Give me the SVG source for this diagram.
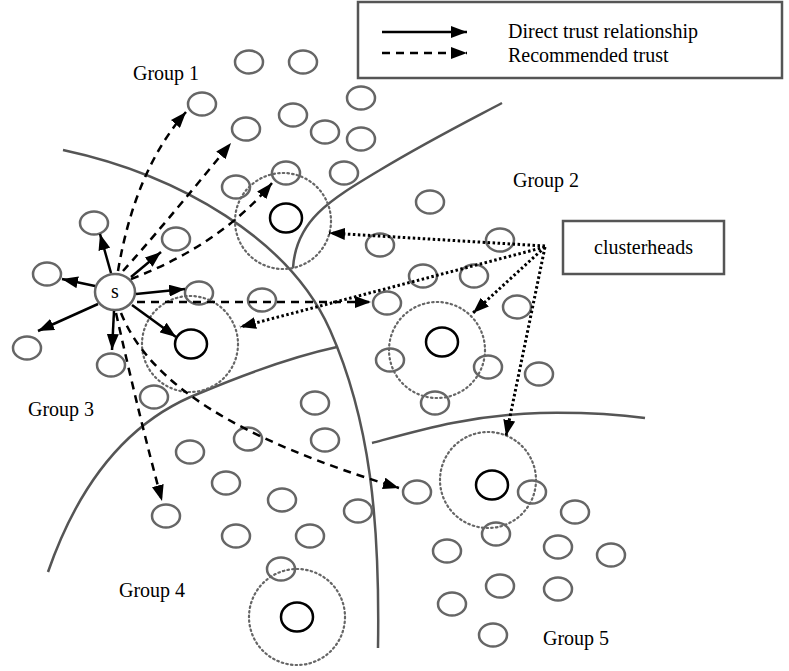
<svg xmlns="http://www.w3.org/2000/svg" width="789" height="671" viewBox="0 0 789 671">
  <defs>
    <marker id="ah" viewBox="0 0 16 12" refX="16" refY="6" markerWidth="16" markerHeight="12" markerUnits="userSpaceOnUse" orient="auto">
      <path d="M0,0L16,6L0,12z" fill="#000"/>
    </marker>
  </defs>
  <style>
    text { font-family: "Liberation Serif", "Times New Roman", serif; font-size: 20px; fill: #000; }
    .n { fill: none; stroke: #666; stroke-width: 2.5; }
    .ch { fill: none; stroke: #000; stroke-width: 2.5; }
    .rng { fill: none; stroke: #666; stroke-width: 2.2; stroke-dasharray: 1.5 3.2; stroke-linecap: round; }
    .bd { fill: none; stroke: #555; stroke-width: 2.5; }
    .direct { fill: none; stroke: #000; stroke-width: 2.5; marker-end: url(#ah); }
    .rec { fill: none; stroke: #000; stroke-width: 2.5; stroke-dasharray: 8 6; marker-end: url(#ah); }
    .ptr { fill: none; stroke: #000; stroke-width: 3; stroke-dasharray: 2.5 2.5; marker-end: url(#ah); }
  </style>

  <rect width="789" height="671" fill="#fff"/>

  <!-- group boundaries -->
  <g id="boundaries">
    <path class="bd" d="M63,150 C180,175 290,240 330,330 C370,420 380,520 378,648"/>
    <path class="bd" d="M293,268 C296,220 330,200 380,170 S470,120 502,103"/>
    <path class="bd" d="M48,572 C80,480 130,420 200,393 C250,372 300,355 337,347"/>
    <path class="bd" d="M372,443 C420,430 470,415 540,413 Q600,412 645,418"/>
  </g>

  <!-- legend -->
  <g id="legend">
    <rect x="358" y="2" width="424" height="76" fill="none" stroke="#555" stroke-width="2.5"/>
    <line class="direct" x1="382" y1="32" x2="467" y2="32"/>
    <line class="rec" x1="382" y1="53" x2="467" y2="53"/>
    <text x="508" y="38">Direct trust relationship</text>
    <text x="508" y="62">Recommended trust</text>
  </g>

  <!-- cluster ranges and clusterheads -->
  <g id="cluster1"><circle class="rng" cx="283" cy="221" r="48"/><ellipse class="ch" cx="286" cy="218" rx="16" ry="14.5"/></g>
  <g id="cluster2"><circle class="rng" cx="437" cy="350" r="48"/><ellipse class="ch" cx="442" cy="342" rx="16" ry="14.5"/></g>
  <g id="cluster3"><circle class="rng" cx="190" cy="344" r="48"/><ellipse class="ch" cx="191" cy="344" rx="16" ry="14.5"/></g>
  <g id="cluster4"><circle class="rng" cx="297" cy="617" r="48"/><ellipse class="ch" cx="297" cy="617" rx="16" ry="14.5"/></g>
  <g id="cluster5"><circle class="rng" cx="488" cy="480" r="48"/><ellipse class="ch" cx="492" cy="485" rx="16" ry="14.5"/></g>

  <!-- ordinary nodes -->
  <g id="g1-nodes">
    <g id="n1"><ellipse class="n" cx="249" cy="62" rx="14" ry="11.5"/></g>
    <g id="n2"><ellipse class="n" cx="303" cy="62" rx="14" ry="11.5"/></g>
    <g id="n3"><ellipse class="n" cx="202" cy="104" rx="14" ry="11.5"/></g>
    <g id="n4"><ellipse class="n" cx="246" cy="129" rx="14" ry="11.5"/></g>
    <g id="n5"><ellipse class="n" cx="293" cy="115" rx="14" ry="11.5"/></g>
    <g id="n6"><ellipse class="n" cx="325" cy="132" rx="14" ry="11.5"/></g>
    <g id="n7"><ellipse class="n" cx="361" cy="98" rx="14" ry="11.5"/></g>
    <g id="n8"><ellipse class="n" cx="361" cy="139" rx="14" ry="11.5"/></g>
    <g id="n9"><ellipse class="n" cx="344" cy="173" rx="14" ry="11.5"/></g>
    <g id="n10"><ellipse class="n" cx="286" cy="173" rx="14" ry="11.5"/></g>
    <g id="n11"><ellipse class="n" cx="236" cy="187" rx="14" ry="11.5"/></g>
  </g>
  <g id="g2-nodes">
    <g id="n12"><ellipse class="n" cx="430" cy="202" rx="14" ry="11.5"/></g>
    <g id="n13"><ellipse class="n" cx="380" cy="245" rx="14" ry="11.5"/></g>
    <g id="n14"><ellipse class="n" cx="500" cy="240" rx="14" ry="11.5"/></g>
    <g id="n15"><ellipse class="n" cx="423" cy="276" rx="14" ry="11.5"/></g>
    <g id="n16"><ellipse class="n" cx="474" cy="276" rx="14" ry="11.5"/></g>
    <g id="n17"><ellipse class="n" cx="387" cy="303" rx="14" ry="11.5"/></g>
    <g id="n18"><ellipse class="n" cx="517" cy="307" rx="14" ry="11.5"/></g>
    <g id="n19"><ellipse class="n" cx="390" cy="360" rx="14" ry="11.5"/></g>
    <g id="n20"><ellipse class="n" cx="488" cy="367" rx="14" ry="11.5"/></g>
    <g id="n21"><ellipse class="n" cx="539" cy="374" rx="14" ry="11.5"/></g>
    <g id="n22"><ellipse class="n" cx="435" cy="403" rx="14" ry="11.5"/></g>
  </g>
  <g id="g3-nodes">
    <g id="n23"><ellipse class="n" cx="94" cy="223" rx="14" ry="11.5"/></g>
    <g id="n24"><ellipse class="n" cx="176" cy="239" rx="14" ry="11.5"/></g>
    <g id="n25"><ellipse class="n" cx="47" cy="274" rx="14" ry="11.5"/></g>
    <g id="n26"><ellipse class="n" cx="199" cy="293" rx="14" ry="11.5"/></g>
    <g id="n27"><ellipse class="n" cx="262" cy="300" rx="14" ry="11.5"/></g>
    <g id="n28"><ellipse class="n" cx="27" cy="348" rx="14" ry="11.5"/></g>
    <g id="n29"><ellipse class="n" cx="111" cy="365" rx="14" ry="11.5"/></g>
    <g id="n30"><ellipse class="n" cx="154" cy="397" rx="14" ry="11.5"/></g>
  </g>
  <g id="g4-nodes">
    <g id="n31"><ellipse class="n" cx="315" cy="403" rx="14" ry="11.5"/></g>
    <g id="n32"><ellipse class="n" cx="248" cy="439" rx="14" ry="11.5"/></g>
    <g id="n33"><ellipse class="n" cx="190" cy="452" rx="14" ry="11.5"/></g>
    <g id="n34"><ellipse class="n" cx="325" cy="440" rx="14" ry="11.5"/></g>
    <g id="n35"><ellipse class="n" cx="226" cy="483" rx="14" ry="11.5"/></g>
    <g id="n36"><ellipse class="n" cx="282" cy="500" rx="14" ry="11.5"/></g>
    <g id="n37"><ellipse class="n" cx="358" cy="511" rx="14" ry="11.5"/></g>
    <g id="n38"><ellipse class="n" cx="166" cy="516" rx="14" ry="11.5"/></g>
    <g id="n39"><ellipse class="n" cx="236" cy="536" rx="14" ry="11.5"/></g>
    <g id="n40"><ellipse class="n" cx="310" cy="536" rx="14" ry="11.5"/></g>
    <g id="n41"><ellipse class="n" cx="281" cy="569" rx="14" ry="11.5"/></g>
  </g>
  <g id="g5-nodes">
    <g id="n42"><ellipse class="n" cx="417" cy="492" rx="14" ry="11.5"/></g>
    <g id="n43"><ellipse class="n" cx="532" cy="492" rx="14" ry="11.5"/></g>
    <g id="n44"><ellipse class="n" cx="575" cy="512" rx="14" ry="11.5"/></g>
    <g id="n45"><ellipse class="n" cx="496" cy="534" rx="14" ry="11.5"/></g>
    <g id="n46"><ellipse class="n" cx="447" cy="551" rx="14" ry="11.5"/></g>
    <g id="n47"><ellipse class="n" cx="558" cy="547" rx="14" ry="11.5"/></g>
    <g id="n48"><ellipse class="n" cx="611" cy="555" rx="14" ry="11.5"/></g>
    <g id="n49"><ellipse class="n" cx="500" cy="586" rx="14" ry="11.5"/></g>
    <g id="n50"><ellipse class="n" cx="558" cy="589" rx="14" ry="11.5"/></g>
    <g id="n51"><ellipse class="n" cx="452" cy="604" rx="14" ry="11.5"/></g>
    <g id="n52"><ellipse class="n" cx="493" cy="635" rx="14" ry="11.5"/></g>
  </g>

  <!-- source node -->
  <g id="s">
    <ellipse cx="115" cy="292" rx="20" ry="18" fill="#fff" stroke="#666" stroke-width="2.5"/>
    <text x="115" y="298" text-anchor="middle" font-size="18">s</text>
  </g>

  <!-- clusterheads label -->
  <g id="clusterheads">
    <rect x="563" y="221" width="161" height="53" fill="#fff" stroke="#555" stroke-width="2.5"/>
    <text x="643.5" y="254" text-anchor="middle">clusterheads</text>
  </g>

  <!-- connectors -->
  <g id="connectors">
    <!-- direct trust -->
    <line class="direct" x1="111" y1="273" x2="100" y2="234"/>
    <line class="direct" x1="95" y1="286" x2="62" y2="279"/>
    <line class="direct" x1="131" y1="277" x2="161" y2="252"/>
    <line class="direct" x1="136" y1="294" x2="185" y2="289"/>
    <line class="direct" x1="98" y1="304" x2="38" y2="331"/>
    <line class="direct" x1="114" y1="311" x2="112" y2="350"/>
    <line class="direct" x1="132" y1="305" x2="176" y2="337"/>
    <!-- recommended trust -->
    <path class="rec" d="M118,271 Q135,170 186,112"/>
    <path class="rec" d="M123,271 Q160,230 231,143"/>
    <path class="rec" d="M131,279 Q220,245 272,183"/>
    <path class="rec" d="M137,302 L371,302" stroke-width="3.5"/>
    <path class="rec" d="M116,313 Q140,420 162,501"/>
    <path class="rec" d="M121,313 C150,385 240,440 399,488"/>
    <!-- clusterhead pointers -->
    <line class="ptr" x1="545" y1="246" x2="329" y2="233"/>
    <line class="ptr" x1="545" y1="247" x2="240" y2="327"/>
    <line class="ptr" x1="545" y1="247" x2="473" y2="313"/>
    <line class="ptr" x1="545" y1="247" x2="506" y2="436"/>
  </g>

  <!-- group labels -->
  <g id="labels">
    <text x="133" y="80">Group 1</text>
    <text x="513" y="187">Group 2</text>
    <text x="28" y="416">Group 3</text>
    <text x="119" y="597">Group 4</text>
    <text x="543" y="645">Group 5</text>
  </g>
</svg>
